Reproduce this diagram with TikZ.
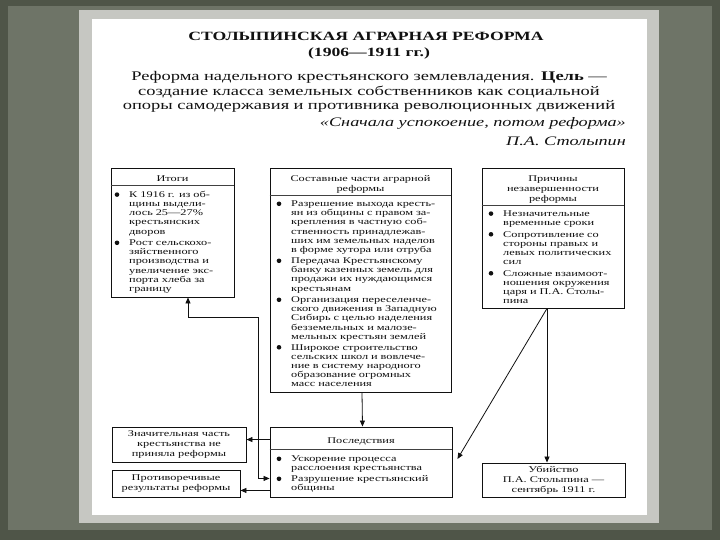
\documentclass[tikz,border=0pt]{standalone}
\usepackage{fontspec}
\setmainfont[FakeStretch=1.4]{Liberation Serif}
\usetikzlibrary{arrows.meta}
\definecolor{bgdark}{HTML}{6E7467}
\definecolor{bgedge}{HTML}{4F5548}
\definecolor{framegray}{HTML}{C6C7C2}
\definecolor{ink}{HTML}{111111}
\tikzset{
  box/.style={draw=ink, line width=0.9pt, fill=white, inner sep=0pt},
  txt/.style={inner sep=0pt, text=ink, font=\fontsize{8.8}{9.2}\selectfont, align=left, anchor=base west},
  hdr/.style={inner sep=0pt, text=ink, font=\fontsize{8.8}{10}\selectfont, align=center, anchor=base},
  smallbox/.style={box, align=center, text=ink, font=\fontsize{8.8}{10}\selectfont},
  bul/.style={circle, fill=ink, inner sep=0pt, minimum size=4.6pt},
  arr/.style={draw=ink, line width=0.8pt, -{Triangle[length=6pt,width=5pt]}},
  arrboth/.style={draw=ink, line width=0.8pt, {Triangle[length=6pt,width=5pt]}-{Triangle[length=6pt,width=5pt]}},
  divline/.style={draw=ink!80, line width=1.3pt},
  titletxt/.style={inner sep=0pt, text=ink, font=\bfseries\fontsize{12.6}{15}\selectfont, anchor=base},
}
\begin{document}
\begin{tikzpicture}[x=1pt,y=-1pt]
\useasboundingbox (0,0) rectangle (720,540);
% background
\fill[bgedge] (0,0) rectangle (720,540);
\fill[bgdark] (8,6) rectangle (712,530);
\fill[framegray] (79,10) rectangle (659,523);
\fill[white] (92,19) rectangle (647,515);

% title and text
\node[titletxt] (t1) at (366,40.5) {СТОЛЫПИНСКАЯ АГРАРНАЯ РЕФОРМА};
\node[titletxt] (t2) at (369,57) {(1906—1911 гг.)};
\node[inner sep=0pt, text=ink, anchor=base, text width=540pt, align=center,
      font=\fontsize{13.2}{14.3}\selectfont] (para) at (369,81)
  {Реформа надельного крестьянского землевладения. \textbf{Цель} —\\создание класса земельных собственников как социальной\\опоры самодержавия и противника революционных движений};
\node[inner sep=0pt, text=ink, anchor=base east, font=\itshape\fontsize{13}{14}\selectfont] (quote) at (626,127)
  {«Сначала успокоение, потом реформа»};
\node[inner sep=0pt, text=ink, anchor=base east, font=\itshape\fontsize{13}{14}\selectfont] (auth) at (626,146)
  {П.А. Столыпин};

% boxes
\node[box, minimum width=123pt, minimum height=129pt] (itogi) at (172.5,232.5) {};
\node[box, minimum width=181pt, minimum height=224pt] (parts) at (360.5,280) {};
\node[box, minimum width=142pt, minimum height=140pt] (causes) at (553,238) {};
\node[box, minimum width=182pt, minimum height=70pt] (cons) at (361,462) {};
\node[smallbox, minimum width=134pt, minimum height=35pt] (mass) at (179,444.5)
  {Значительная часть\\крестьянства не\\приняла реформы};
\node[smallbox, minimum width=128pt, minimum height=27pt] (contr) at (176,483.5)
  {Противоречивые\\результаты реформы};
\node[smallbox, minimum width=143pt, minimum height=34pt] (murder) at (553.5,480)
  {Убийство\\П.А. Столыпина —\\сентябрь 1911 г.};

% dividers
\draw[divline] ([yshift=-18pt]itogi.north west) -- ([yshift=-18pt]itogi.north east);
\draw[divline] ([yshift=-28pt]parts.north west) -- ([yshift=-28pt]parts.north east);
\draw[divline] ([yshift=-38pt]causes.north west) -- ([yshift=-38pt]causes.north east);
\draw[divline] ([yshift=-23pt]cons.north west) -- ([yshift=-23pt]cons.north east);

% Itogi content
\node[hdr, text width=120pt] (itH) at (172.5,181.3) {Итоги};
\node[bul] (itb1) at (117,194.6) {};
\node[txt, text width=100pt] (it1) at (129,197.3) {К 1916 г. из об-\\щины выдели-\\лось 25—27\%\\крестьянских\\дворов};
\node[bul] (itb2) at (117,242.8) {};
\node[txt, text width=100pt] (it2) at (129,245.5) {Рост сельскохо-\\зяйственного\\производства и\\увеличение экс-\\порта хлеба за\\границу};

% Parts content
\node[hdr, text width=178pt] (pH) at (360.5,181.3) {Составные части аграрной\\реформы};
\node[bul] (pb1) at (279,203.8) {};
\node[txt, text width=158pt] (p1) at (291,206.5) {Разрешение выхода кресть-\\ян из общины с правом за-\\крепления в частную соб-\\ственность принадлежав-\\ших им земельных наделов\\в форме хутора или отруба};
\node[bul] (pb2) at (279,260.8) {};
\node[txt, text width=158pt] (p2) at (291,263.5) {Передача Крестьянскому\\банку казенных земель для\\продажи их нуждающимся\\крестьянам};
\node[bul] (pb3) at (279,299.8) {};
\node[txt, text width=158pt] (p3) at (291,302.5) {Организация переселенче-\\ского движения в Западную\\Сибирь с целью наделения\\безземельных и малозе-\\мельных крестьян землей};
\node[bul] (pb4) at (279,347.3) {};
\node[txt, text width=158pt] (p4) at (291,350) {Широкое строительство\\сельских школ и вовлече-\\ние в систему народного\\образование огромных\\масс населения};

% Causes content
\node[hdr, text width=140pt] (cH) at (553,181.3) {Причины\\незавершенности\\реформы};
\node[bul] (cb1) at (491,213.6) {};
\node[txt, text width=120pt] (c1) at (503,216.3) {Незначительные\\временные сроки};
\node[bul] (cb2) at (491,234.3) {};
\node[txt, text width=120pt] (c2) at (503,237) {Сопротивление со\\стороны правых и\\левых политических\\сил};
\node[bul] (cb3) at (491,273.3) {};
\node[txt, text width=120pt] (c3) at (503,276) {Сложные взаимоот-\\ношения окружения\\царя и П.А. Столы-\\пина};

% Consequences content
\node[hdr, text width=178pt] (sH) at (361,443.5) {Последствия};
\node[bul] (sb1) at (279,458.8) {};
\node[txt, text width=158pt] (s1) at (291,461.5) {Ускорение процесса\\расслоения крестьянства};
\node[bul] (sb2) at (279,478.8) {};
\node[txt, text width=158pt] (s2) at (291,481.5) {Разрушение крестьянский\\общины};

% connectors
\draw[arr] ([xshift=1.5pt]parts.south) -- ([xshift=1.5pt]cons.north);
\coordinate (m1) at ([yshift=-13pt]cons.north west);
\draw[arr] (m1) -- (mass.east |- m1);
\coordinate (m2) at ([yshift=7pt]cons.south west);
\draw[arr] (m2) -- (contr.east |- m2);
\coordinate (m3) at ([yshift=19pt]cons.south west);
\draw[arrboth] ([xshift=15.5pt]itogi.south) -- ++(0,20) -| ([xshift=-11pt]m3) -- (m3);
\coordinate (cs) at ([xshift=-6pt]causes.south);
\draw[arr] (cs) -- (cs |- murder.north);
\draw[arr] (cs) -- ([xshift=5pt,yshift=3pt]cons.east);
\end{tikzpicture}
\end{document}
